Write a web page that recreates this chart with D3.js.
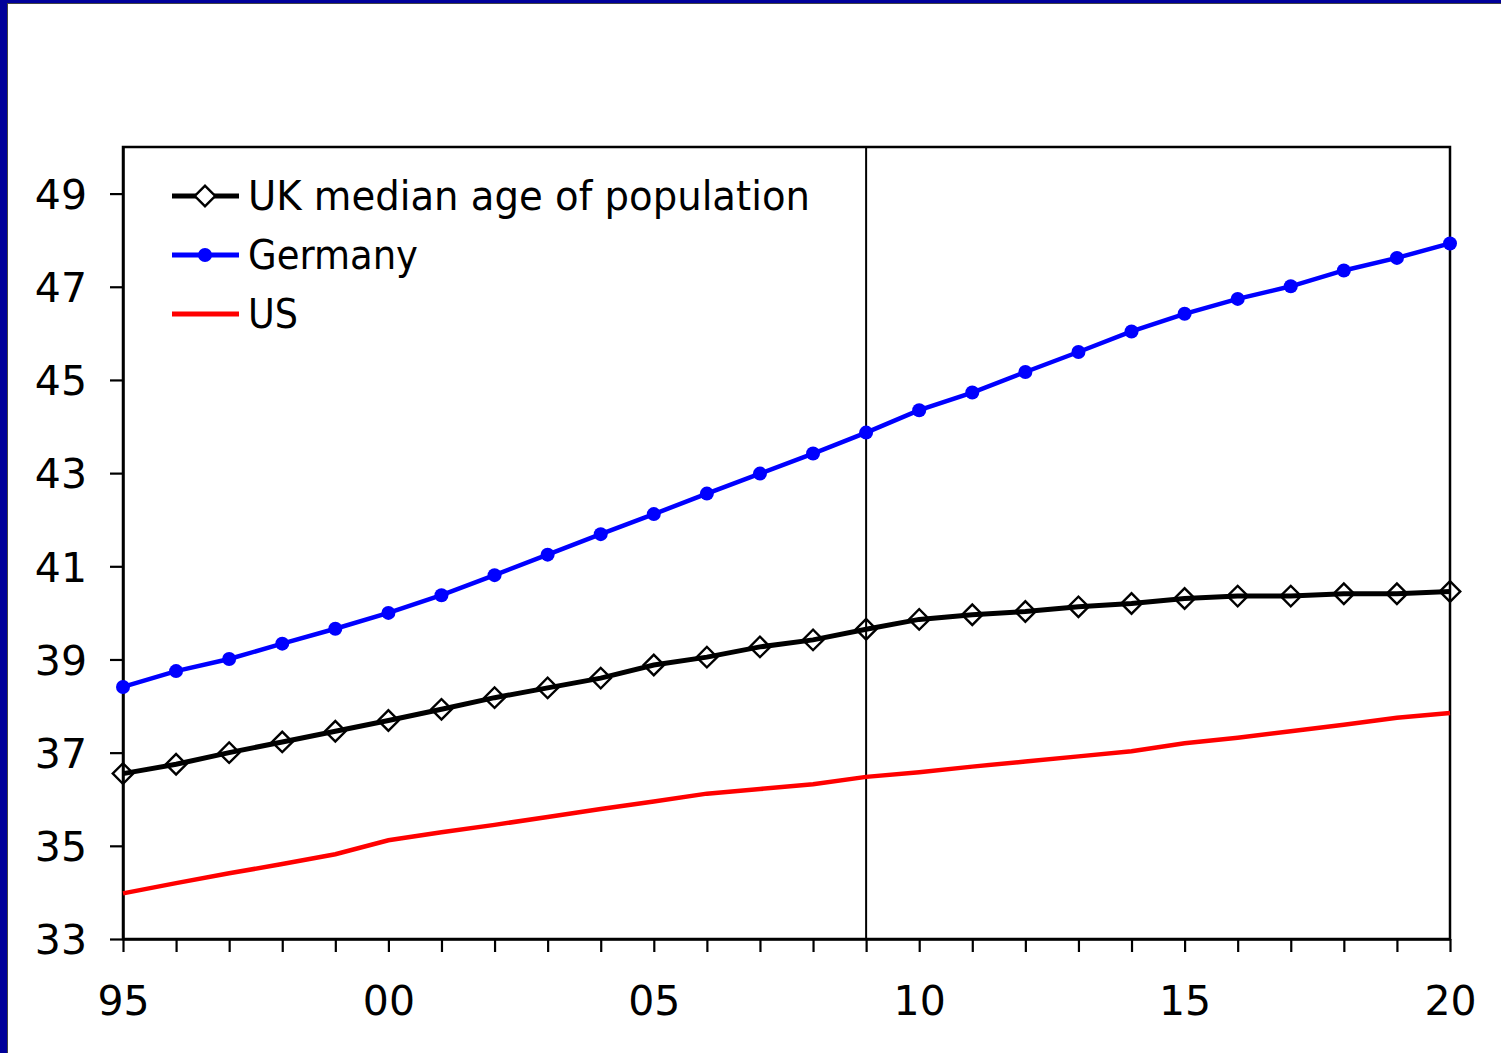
<!DOCTYPE html>
<html>
<head>
<meta charset="utf-8">
<script src="https://cdn.jsdelivr.net/npm/d3@7"></script>
<style>
  body { margin: 0; background: #fff; }
  svg { display: block; }
  text { font-family: "DejaVu Sans", sans-serif; fill: #000; }
</style>
</head>
<body>
<svg></svg>
<script>
// data
var years = d3.range(1995, 2021);
var ukAge = [36.55, 36.75, 37.0, 37.23, 37.46, 37.69, 37.93, 38.18, 38.39, 38.6,
             38.88, 39.05, 39.27, 39.42, 39.65, 39.86, 39.96, 40.03, 40.13, 40.2,
             40.31, 40.36, 40.36, 40.41, 40.41, 40.46];
var germanyAge = [38.41, 38.75, 39.01, 39.34, 39.66, 40.0, 40.38, 40.81, 41.25, 41.69,
                  42.12, 42.56, 42.99, 43.42, 43.87, 44.35, 44.73, 45.17, 45.6, 46.04,
                  46.42, 46.74, 47.01, 47.35, 47.62, 47.93];
var usAge = [33.98, 34.2, 34.41, 34.61, 34.82, 35.12, 35.29, 35.45, 35.62, 35.79,
             35.95, 36.12, 36.22, 36.32, 36.48, 36.58, 36.7, 36.81, 36.92, 37.03,
             37.2, 37.32, 37.46, 37.6, 37.75, 37.85];
var yTicks = [33, 35, 37, 39, 41, 43, 45, 47, 49];
var xLabelYears = [1995, 2000, 2005, 2010, 2015, 2020];
var seriesNames = ["UK median age of population", "Germany", "US"];
var markerYear = 2009;

var W = 1501, H = 1053;
var svg = d3.select("svg").attr("width", W).attr("height", H);

// slide frame
svg.append("rect").attr("x", 0).attr("y", 0).attr("width", W).attr("height", H).attr("fill", "#fff");
svg.append("rect").attr("x", 0).attr("y", 0).attr("width", 7).attr("height", H).attr("fill", "#00009a");
svg.append("rect").attr("x", 0).attr("y", 0).attr("width", W).attr("height", 3).attr("fill", "#00009a");
svg.append("line").attr("x1", 7.5).attr("x2", 7.5).attr("y1", 3).attr("y2", H)
  .attr("stroke", "#444").attr("stroke-width", 1);
svg.append("line").attr("x1", 7).attr("x2", W).attr("y1", 3.5).attr("y2", 3.5)
  .attr("stroke", "#444").attr("stroke-width", 1);

var x = d3.scaleLinear().domain([1995, 2020]).range([123, 1450]);
var y = d3.scaleLinear().domain([33, 50]).range([939, 147]);

// plot box
svg.append("rect")
  .attr("x", x(1995)).attr("y", y(50))
  .attr("width", x(2020) - x(1995)).attr("height", y(33) - y(50))
  .attr("fill", "none").attr("stroke", "#000").attr("stroke-width", 2.5);

// x axis
var xAxis = svg.append("g")
  .attr("transform", "translate(0," + y(33) + ")")
  .call(d3.axisBottom(x).tickValues(years).tickSize(13).tickSizeOuter(0)
    .tickFormat(function(d) { return xLabelYears.indexOf(d) >= 0 ? String(d).slice(2) : ""; }));
xAxis.select(".domain").attr("stroke-width", 2.5);
xAxis.selectAll(".tick line").attr("stroke-width", 2.2);
xAxis.selectAll(".tick text").attr("y", 47).attr("font-size", 41).attr("font-family", "DejaVu Sans").attr("fill", "#000");

// y axis
var yAxis = svg.append("g")
  .attr("transform", "translate(" + x(1995) + ",0)")
  .call(d3.axisLeft(y).tickValues(yTicks).tickSize(13).tickSizeOuter(0).tickPadding(23));
yAxis.select(".domain").attr("stroke-width", 2.5);
yAxis.selectAll(".tick line").attr("stroke-width", 2.2);
yAxis.selectAll(".tick text").attr("font-size", 41).attr("font-family", "DejaVu Sans").attr("fill", "#000")
  .attr("dy", "0.36em");

// vertical marker line at 2009
svg.append("line")
  .attr("x1", x(markerYear)).attr("x2", x(markerYear))
  .attr("y1", y(50)).attr("y2", y(33))
  .attr("stroke", "#000").attr("stroke-width", 2);

function lineFor(vals) {
  return d3.line().x(function(d, i) { return x(years[i]); }).y(function(d) { return y(d); })(vals);
}

// US
svg.append("path").attr("d", lineFor(usAge))
  .attr("fill", "none").attr("stroke", "#ff0000").attr("stroke-width", 4.5);

// Germany
svg.append("path").attr("d", lineFor(germanyAge))
  .attr("fill", "none").attr("stroke", "#0000ff").attr("stroke-width", 4.5);
svg.append("g").selectAll("circle").data(germanyAge).enter().append("circle")
  .attr("cx", function(d, i) { return x(years[i]); })
  .attr("cy", function(d) { return y(d); })
  .attr("r", 7).attr("fill", "#0000ff");

// UK
svg.append("path").attr("d", lineFor(ukAge))
  .attr("fill", "none").attr("stroke", "#000").attr("stroke-width", 5);
var diamond = d3.symbol().type(d3.symbolSquare).size(210);
svg.append("g").selectAll("path").data(ukAge).enter().append("path")
  .attr("d", diamond)
  .attr("transform", function(d, i) { return "translate(" + x(years[i]) + "," + y(d) + ") rotate(45)"; })
  .attr("fill", "none").attr("stroke", "#000").attr("stroke-width", 2.4);

// legend
var legendY = [196, 255, 314];
var legendLen = [562, 170, 50];   // text widths measured on the reference
var legendColors = ["#000", "#0000ff", "#ff0000"];
var legend = svg.append("g");
seriesNames.forEach(function(name, i) {
  legend.append("line").attr("x1", 172).attr("x2", 239)
    .attr("y1", legendY[i]).attr("y2", legendY[i])
    .attr("stroke", legendColors[i]).attr("stroke-width", 5);
  legend.append("text").attr("x", 248).attr("y", legendY[i]).attr("dy", "0.36em")
    .attr("font-size", 40).attr("textLength", legendLen[i])
    .attr("lengthAdjust", "spacingAndGlyphs").text(name);
});
legend.append("path").attr("d", diamond)
  .attr("transform", "translate(205," + legendY[0] + ") rotate(45)")
  .attr("fill", "#fff").attr("stroke", "#000").attr("stroke-width", 2.4);
legend.append("circle").attr("cx", 205).attr("cy", legendY[1]).attr("r", 7).attr("fill", "#0000ff");
</script>
</body>
</html>
